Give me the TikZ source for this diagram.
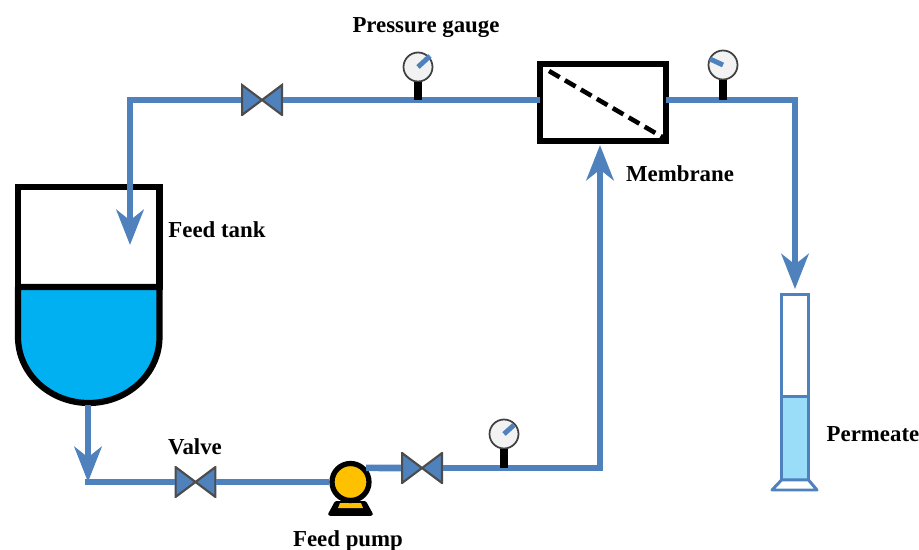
\documentclass[tikz,border=0pt]{standalone}
\usepackage{fontspec}
\setmainfont{Liberation Serif}
\usepackage{xcolor}
\usetikzlibrary{arrows.meta}
\definecolor{pipeblue}{HTML}{4F81BD}
\definecolor{waterblue}{HTML}{00B0F0}
\definecolor{permeateblue}{HTML}{99DDF9}
\definecolor{pumpyellow}{HTML}{FFC000}

\begin{document}
\begin{tikzpicture}[
                x=0.02cm, y=-0.02cm, % Same units as the pixels of the sketch
                every node/.style={font=\bfseries\fontsize{13}{15}\selectfont}, % Labels
                pipe/.style={draw=pipeblue, line width=3.8pt, line cap=butt}, % Plain pipe
                pipearrow/.style={pipe, -{Stealth[length=20pt, width=15.5pt, inset=6pt]}}, % Pipe with head
                valve/.style={minimum width=0.84cm, minimum height=0.64cm, inner sep=0pt, outer sep=0pt,
                    path picture={\draw[fill=pipeblue, draw=black!70, line width=1.2pt]
                        ([shift={(1,1)}]path picture bounding box.north west) -- ([shift={(-1,-1)}]path picture bounding box.south east)
                        -- ([shift={(-1,1)}]path picture bounding box.north east) -- ([shift={(1,-1)}]path picture bounding box.south west) -- cycle;}}, % Bow tie
                gauge/.style={circle, draw=black!75, fill=black!5, line width=1pt, minimum size=0.58cm, inner sep=0pt}, % Dial
                needle/.style={draw=pipeblue, line width=2.8pt}, % Dial pointer
                stem/.style={draw=black, line width=4pt}, % Dial stem
                thickbox/.style={draw=black, line width=3.5pt, inner sep=0pt, outer sep=0pt}, % Tank and membrane
                glass/.style={draw=pipeblue, line width=1.7pt, minimum width=0.54cm, inner sep=0pt, outer sep=0pt} % Cylinder
                ]
                \useasboundingbox (0,0) rectangle (919,550);

                % Feed tank
                \node[thickbox, fill=white, minimum width=2.83cm, minimum height=2cm] (tank) at (88.75,237) {};
                \draw[thickbox, fill=waterblue, line join=round] (tank.south west) -- (18,337)
                    .. controls (18,373.5) and (49.75,403) .. (88.75,403)
                    .. controls (127.75,403) and (159.5,373.5) .. (159.5,337) -- (tank.south east) -- cycle;
                \coordinate (tankin) at (130,245);
                \coordinate (tankout) at (88,405);
                \coordinate (lowcorner) at (88,482);

                % Membrane
                \node[thickbox, fill=white, minimum width=2.52cm, minimum height=1.55cm] (membrane) at (603,102.5) {};
                \coordinate (sheetstart) at (549,71);
                \coordinate (sheetend) at (664,138);
                \draw[draw=black, line width=2.6pt, dash pattern=on 7pt off 3.5pt] (sheetstart) -- (sheetend);
                \coordinate (membranein) at (600,145);

                % Valves and pump
                \node[valve] (valvetop) at (262,100) {};
                \node[valve] (valvelow) at (195.5,482) {};
                \node[valve] (valvepump) at (422,468) {};
                \draw[draw=black, fill=black, line width=2pt, line join=round] (336,503) -- (365,503) -- (371,514) -- (330,514) -- cycle;
                \fill[pumpyellow] (340,503) -- (361,503) -- (363,508) -- (338,508) -- cycle;
                \node[circle, draw=black, fill=pumpyellow, line width=3pt, minimum size=0.74cm, inner sep=0pt] (pump) at (350.5,482) {};

                % Gauges
                \node[gauge] (gaugetop) at (418,67) {};
                \node[gauge] (gaugeout) at (723,65) {};
                \node[gauge] (gaugelow) at (504,434) {};
                \draw[needle] (gaugetop.center) -- ++(12,-11);
                \draw[needle] (gaugeout.center) -- ++(-13,-6);
                \draw[needle] (gaugelow.center) -- ++(10,-9);

                % Permeate cylinder
                \node[glass, minimum height=3.72cm] (cylinder) at (795,387) {};
                \node[glass, fill=permeateblue, minimum height=1.68cm] (permeate) at (795,438) {};
                \draw[draw=pipeblue, fill=white, line width=1.7pt, line join=round] (cylinder.south west) -- (772,490) -- (817,490) -- (cylinder.south east) -- cycle;

                % Pipes
                \coordinate (topcorner) at (130,100);
                \coordinate (outcorner) at (795,100);
                \coordinate (riser) at (600,468);
                \draw[pipe] (membrane.west |- valvetop) -- (valvetop.east);
                \draw[pipearrow] (valvetop.west) -- (topcorner) -- (tankin);
                \draw[pipearrow] (tankout) -- (lowcorner);
                \draw[pipe, shorten <=-1.9pt] (lowcorner) -- (valvelow.west);
                \draw[pipe] (valvelow.east) -- (pump.west);
                \draw[pipe] (pump.42) -- (valvepump.west);
                \draw[pipearrow] (valvepump.east) -- (riser) -- (membranein);
                \draw[pipearrow, shorten >=2.8pt] (membrane.east |- outcorner) -- (outcorner) -- (cylinder.north);
                \draw[stem] (gaugetop.south) -- (gaugetop |- valvetop);
                \draw[stem] (gaugeout.south) -- (gaugeout |- outcorner);
                \draw[stem] (gaugelow.south) -- (gaugelow |- valvepump);

                % Labels
                \node (labelgauge) at (426,28) {Pressure gauge};
                \node (labelmembrane) at (680,174) {Membrane};
                \node (labeltank) at (217,230) {Feed tank};
                \node (labelvalve) at (195,447) {Valve};
                \node (labelpump) at (348,541) {Feed pump};
                \node (labelpermeate) at (873,434) {Permeate};
            \end{tikzpicture}
\end{document}
